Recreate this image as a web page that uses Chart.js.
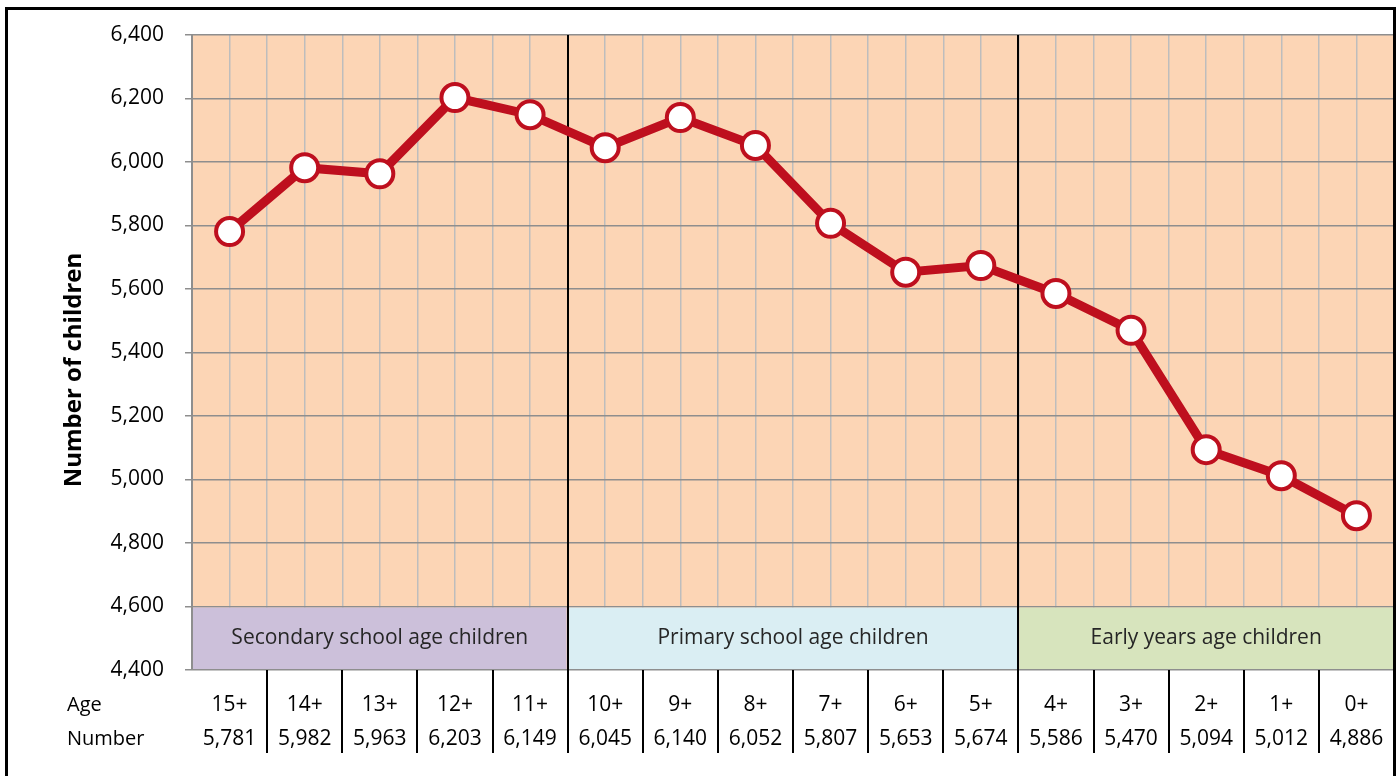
<!DOCTYPE html>
<html>
<head>
<meta charset="utf-8">
<script src="https://cdn.jsdelivr.net/npm/chart.js@4/dist/chart.umd.min.js"></script>
<style>
html, body { margin: 0; padding: 0; background: #fff; }
#wrap { width: 1399px; height: 776px; }
</style>
</head>
<body>
<div id="wrap"><canvas id="myChart"></canvas></div>
<script>
// data
const ages = ['15+', '14+', '13+', '12+', '11+', '10+', '9+', '8+', '7+', '6+', '5+', '4+', '3+', '2+', '1+', '0+'];
const children = [5781, 5982, 5963, 6203, 6149, 6045, 6140, 6052, 5807, 5653, 5674, 5586, 5470, 5094, 5012, 4886];

const groupNames = ['Secondary school age children', 'Primary school age children', 'Early years age children'];
const groupFirst = [0, 5, 11];
const groupLast = [4, 10, 15];
const groupColors = ['#CCC0DA', '#DAEEF3', '#D7E4BD'];

const yMin = 4400;
const yMax = 6400;
const yStep = 200;
const bandTop = 4600;

const FONT = "'Open Sans', 'Noto Sans', sans-serif";

const fmt = v => v.toLocaleString('en-US');

const decor = {
    id: 'decor',
    beforeDraw(chart) {
        const {ctx, chartArea: a} = chart;
        ctx.save();
        ctx.fillStyle = '#fff';
        ctx.fillRect(0, 0, chart.width, chart.height);
        ctx.fillStyle = '#FCD5B5';
        ctx.fillRect(a.left, a.top, a.right - a.left, a.bottom - a.top);
        ctx.restore();
    },
    beforeDatasetsDraw(chart) {
        const {ctx, chartArea: a, scales} = chart;
        const gx = scales.xGrid;
        const y = scales.y;
        ctx.save();
        // group bands along the bottom of the plot
        groupNames.forEach((name, g) => {
            const x0 = gx.getPixelForValue(groupFirst[g] - 0.5);
            const x1 = gx.getPixelForValue(groupLast[g] + 0.5);
            const y0 = y.getPixelForValue(bandTop);
            const y1 = y.getPixelForValue(yMin);
            ctx.fillStyle = groupColors[g];
            ctx.fillRect(x0 + 1, y0 + 1, x1 - x0 - 2, y1 - y0 - 2);
            ctx.fillStyle = '#262626';
            ctx.font = '21px ' + FONT;
            ctx.textAlign = 'center';
            ctx.textBaseline = 'middle';
            ctx.fillText(name, (x0 + x1) / 2, (y0 + y1) / 2);
        });
        // black separators between groups
        ctx.strokeStyle = '#000';
        ctx.lineWidth = 2;
        for (let g = 1; g < groupFirst.length; g++) {
            const x = Math.round(gx.getPixelForValue(groupFirst[g] - 0.5));
            ctx.beginPath();
            ctx.moveTo(x, a.top);
            ctx.lineTo(x, a.bottom);
            ctx.stroke();
        }
        ctx.restore();
    },
    afterDraw(chart) {
        const {ctx, chartArea: a, scales} = chart;
        const x = scales.x;
        const gx = scales.xGrid;
        ctx.save();
        // data table under the axis
        const ageY = a.bottom + 35;
        const numY = a.bottom + 69;
        ctx.fillStyle = '#000';
        ctx.font = '20px ' + FONT;
        ctx.textBaseline = 'middle';
        ctx.textAlign = 'left';
        ctx.fillText('Age', 67, ageY);
        ctx.fillText('Number', 67, numY);
        ctx.font = '21px ' + FONT;
        ctx.textAlign = 'center';
        ages.forEach((age, i) => {
            const cx = x.getPixelForValue(i);
            ctx.fillText(age, cx, ageY);
            ctx.fillText(fmt(children[i]), cx, numY);
        });
        ctx.strokeStyle = '#000';
        ctx.lineWidth = 2;
        for (let i = 0; i < ages.length - 1; i++) {
            const lx = Math.round(gx.getPixelForValue(i + 0.5));
            ctx.beginPath();
            ctx.moveTo(lx, a.bottom);
            ctx.lineTo(lx, a.bottom + 83);
            ctx.stroke();
        }
        // axis title
        ctx.translate(74, 370);
        ctx.rotate(-Math.PI / 2);
        ctx.font = 'bold 24px ' + FONT;
        ctx.textAlign = 'center';
        ctx.fillText('Number of children', 0, 0);
        ctx.setTransform(1, 0, 0, 1, 0, 0);
        // outer frame
        ctx.lineWidth = 3;
        ctx.strokeRect(6.5, 8.5, 1388, 800);
        ctx.restore();
    }
};

const config = {
    type: 'line',
    data: {
        labels: ages,
        datasets: [{
            data: children,
            borderColor: '#BE0F1E',
            borderWidth: 9,
            pointRadius: 13.5,
            pointHoverRadius: 13.5,
            pointBorderWidth: 4,
            pointBackgroundColor: '#fff',
            pointBorderColor: '#BE0F1E',
            tension: 0,
        }]
    },
    options: {
        responsive: true,
        maintainAspectRatio: false,
        animation: false,
        events: [],
        layout: {
            autoPadding: false,
            padding: {left: 0, top: 35, right: 5, bottom: 106}
        },
        plugins: {
            legend: {display: false},
            tooltip: {enabled: false}
        },
        scales: {
            x: {
                type: 'category',
                offset: true,
                display: false,
            },
            xGrid: {
                type: 'linear',
                position: 'bottom',
                min: -0.5,
                max: 15.5,
                ticks: {display: false, stepSize: 0.5},
                grid: {color: '#BDBDBD', lineWidth: 1.5, drawTicks: false},
                border: {display: false},
                afterFit: s => { s.height = 0; }
            },
            y: {
                min: yMin,
                max: yMax,
                ticks: {
                    stepSize: yStep,
                    color: '#000',
                    padding: 21,
                    font: {family: FONT, size: 21},
                    callback: v => fmt(v)
                },
                grid: {color: '#8E8E8E', lineWidth: 1.5, tickLength: 7},
                border: {color: '#8E8E8E', width: 2},
                afterFit: s => { s.width = 192; }
            }
        }
    },
    plugins: [decor]
};

new Chart(document.getElementById('myChart').getContext('2d'), config);
</script>
</body>
</html>
